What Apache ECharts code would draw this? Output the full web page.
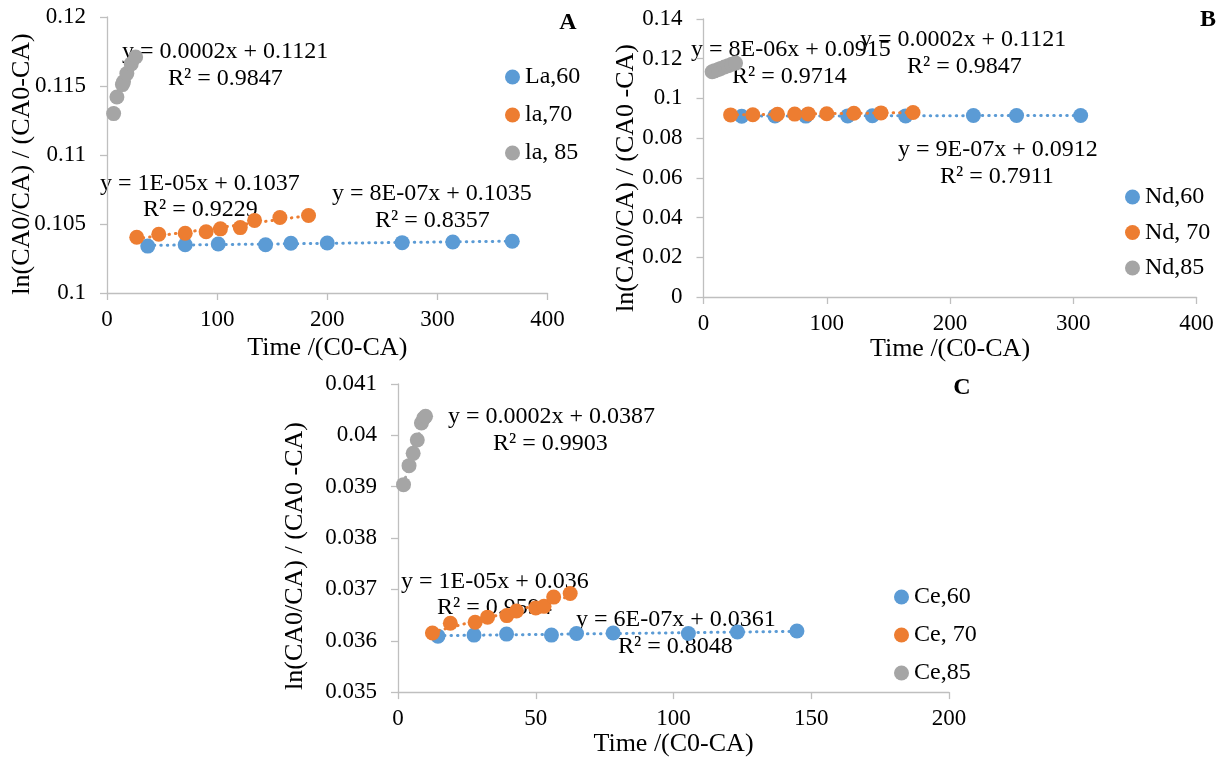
<!DOCTYPE html>
<html><head><meta charset="utf-8">
<script src="https://cdn.jsdelivr.net/npm/echarts@6/dist/echarts.min.js"></script>
<style>html,body{margin:0;padding:0;background:#fff}#c{width:1227px;height:758px}</style>
</head><body><div id="c"></div>
<script>
// ---------- Panel A (La) ----------
const laX60 = [37, 71, 101, 144, 167, 200, 268, 314, 368];
const laY60 = [0.10340, 0.10350, 0.10355, 0.10350, 0.10360, 0.10362, 0.10365, 0.10370, 0.10375];
const laX70 = [27, 47, 71, 90, 103, 121, 134, 157, 183];
const laY70 = [0.10404, 0.10426, 0.10433, 0.10444, 0.10465, 0.10474, 0.10526, 0.10547, 0.10562];
const laX85 = [6, 9, 14, 15, 18, 22, 26];
const laY85 = [0.1130, 0.1142, 0.1151, 0.1153, 0.1159, 0.1166, 0.1171];
// ---------- Panel B (Nd) ----------
const ndX60 = [31, 58, 83, 117, 137, 164, 219, 254, 306];
const ndY60 = [0.0910, 0.0912, 0.0911, 0.0912, 0.0913, 0.0912, 0.0914, 0.0914, 0.0914];
const ndX70 = [22, 40, 60, 74, 85, 100, 122, 144, 170];
const ndY70 = [0.0917, 0.0918, 0.0920, 0.0921, 0.0922, 0.0923, 0.0925, 0.0927, 0.0929];
const ndX85 = [7, 9, 12, 14, 17, 20, 23, 26];
const ndY85 = [0.1134, 0.1139, 0.1146, 0.1151, 0.1158, 0.1165, 0.1172, 0.1178];
// ---------- Panel C (Ce) ----------
const ceX60 = [14.5, 27.6, 39.4, 55.7, 64.8, 78.1, 105.4, 123.2, 144.8];
const ceY60 = [0.03609, 0.03611, 0.03613, 0.03611, 0.03614, 0.03615, 0.03614, 0.03617, 0.03619];
const ceX70 = [12.5, 19, 28, 32.5, 39.5, 43, 50, 53, 56.5, 62.5];
const ceY70 = [0.03615, 0.03634, 0.03636, 0.03646, 0.03649, 0.03658, 0.03664, 0.03667, 0.03685, 0.03692];
const ceX85 = [2, 4, 5.5, 7, 8.5, 9.3, 10];
const ceY85 = [0.03904, 0.03941, 0.03965, 0.03991, 0.04024, 0.04033, 0.04037];

// Legend names
const namesA = ['La,60', 'la,70', 'la, 85'];
const namesB = ['Nd,60', 'Nd, 70', 'Nd,85'];
const namesC = ['Ce,60', 'Ce, 70', 'Ce,85'];
// Axis names / equations
const xName = 'Time /(C0-CA)';
const yNameA = 'ln(CA0/CA) / (CA0-CA)';
const yNameB = 'ln(CA0/CA) / (CA0 -CA)';
const yNameC = 'ln(CA0/CA) / (CA0 -CA)';
const eqA = ['y = 0.0002x + 0.1121', 'R² = 0.9847', 'y = 1E-05x + 0.1037', 'R² = 0.9229', 'y = 8E-07x + 0.1035', 'R² = 0.8357'];
const eqB = ['y = 8E-06x + 0.0915', 'R² = 0.9714', 'y = 0.0002x + 0.1121', 'R² = 0.9847', 'y = 9E-07x + 0.0912', 'R² = 0.7911'];
const eqC = ['y = 0.0002x + 0.0387', 'R² = 0.9903', 'y = 1E-05x + 0.036', 'R² = 0.9594', 'y = 6E-07x + 0.0361', 'R² = 0.8048'];

const COLORS = ['#5B9BD5', '#ED7D31', '#A5A5A5'];
const FONT = '"Liberation Serif", "Times New Roman", serif';

function zip(xs, ys) { return xs.map((x, i) => [x, ys[i]]); }
function fit(xs, ys) {
  const n = xs.length;
  let sx = 0, sy = 0, sxx = 0, sxy = 0;
  for (let i = 0; i < n; i++) { sx += xs[i]; sy += ys[i]; sxx += xs[i] * xs[i]; sxy += xs[i] * ys[i]; }
  const b = (n * sxy - sx * sy) / (n * sxx - sx * sx);
  const a = (sy - b * sx) / n;
  const x0 = Math.min(...xs), x1 = Math.max(...xs);
  return [[x0, a + b * x0], [x1, a + b * x1]];
}

const grids = [
  { left: 107, top: 17, width: 440.5, height: 276 },
  { left: 703.5, top: 19, width: 493, height: 278 },
  { left: 398, top: 384, width: 551, height: 308.7 }
];

const axisLine = { show: true, lineStyle: { color: '#bfbfbf', width: 1.3 } };
const axisTick = { show: true, inside: false, length: 7, lineStyle: { color: '#bfbfbf', width: 1.3 } };
const fmt = v => String(+v.toFixed(4));

function xAxis(gi, max, interval, gap) {
  return {
    type: 'value', gridIndex: gi, min: 0, max: max, interval: interval,
    axisLine, axisTick, splitLine: { show: false },
    axisLabel: { color: '#000', fontFamily: FONT, fontSize: 23, margin: 15 },
    name: xName, nameLocation: 'middle', nameGap: gap,
    nameTextStyle: { color: '#000', fontFamily: FONT, fontSize: 26 }
  };
}
function yAxis(gi, min, max, interval) {
  return {
    type: 'value', gridIndex: gi, min: min, max: max, interval: interval,
    axisLine, axisTick, splitLine: { show: false },
    axisLabel: { color: '#000', fontFamily: FONT, fontSize: 23, margin: 21, formatter: fmt }
  };
}

const panels = [
  { names: namesA, xs: [laX60, laX70, laX85], ys: [laY60, laY70, laY85] },
  { names: namesB, xs: [ndX60, ndX70, ndX85], ys: [ndY60, ndY70, ndY85] },
  { names: namesC, xs: [ceX60, ceX70, ceX85], ys: [ceY60, ceY70, ceY85] }
];

const series = [];
panels.forEach((p, gi) => {
  for (let k = 0; k < 3; k++) {
    series.push({
      type: 'line', name: p.names[k] + ' trend', xAxisIndex: gi, yAxisIndex: gi,
      data: fit(p.xs[k], p.ys[k]), symbol: 'none', silent: true, z: 2 + k * 2,
      lineStyle: { color: COLORS[k], width: 3, type: [0.5, 6], cap: 'round' }
    });
    series.push({
      type: 'scatter', name: p.names[k], xAxisIndex: gi, yAxisIndex: gi,
      data: zip(p.xs[k], p.ys[k]), symbol: 'circle', symbolSize: 15,
      itemStyle: { color: COLORS[k], opacity: 1 }, z: 3 + k * 2
    });
  }
});

function legend(names, left, top, gap) {
  return {
    data: names, orient: 'vertical', left: left, top: top, itemGap: gap,
    itemWidth: 15, itemHeight: 15, icon: 'circle', padding: 0,
    textStyle: { color: '#000', fontFamily: FONT, fontSize: 24, lineHeight: 24 }
  };
}

function txt(t, x, y, opts) {
  opts = opts || {};
  return {
    type: 'text', x: x, y: y, rotation: opts.rot || 0, silent: true,
    style: {
      text: t, fill: '#000',
      font: (opts.bold ? 'bold ' : '') + (opts.size || 24) + 'px ' + FONT,
      align: opts.align || 'left', verticalAlign: 'middle'
    }
  };
}

const graphic = [
  txt('A', 568, 23, { bold: true, align: 'center' }),
  txt('B', 1208, 20, { bold: true, align: 'center' }),
  txt('C', 962, 388, { bold: true, align: 'center' }),
  txt(yNameA, 22, 164, { rot: Math.PI / 2, align: 'center', size: 26 }),
  txt(yNameB, 626, 178, { rot: Math.PI / 2, align: 'center', size: 26 }),
  txt(yNameC, 295, 556, { rot: Math.PI / 2, align: 'center', size: 26 }),
  // Panel A equations
  txt(eqA[0], 122, 52), txt(eqA[1], 168, 79),
  txt(eqA[2], 100, 184), txt(eqA[3], 143, 210),
  txt(eqA[4], 332, 194), txt(eqA[5], 375, 221),
  // Panel B equations
  txt(eqB[0], 691, 50), txt(eqB[1], 732, 77),
  txt(eqB[2], 860, 40), txt(eqB[3], 907, 67),
  txt(eqB[4], 898, 150), txt(eqB[5], 940, 177),
  // Panel C equations
  txt(eqC[0], 448, 417), txt(eqC[1], 493, 444),
  txt(eqC[2], 401, 582), txt(eqC[3], 437, 608),
  txt(eqC[4], 576, 620), txt(eqC[5], 618, 647)
];

const chart = echarts.init(document.getElementById('c'), null, { renderer: 'canvas' });
chart.setOption({
  animation: false,
  backgroundColor: '#fff',
  grid: grids,
  xAxis: [xAxis(0, 400, 100, 42), xAxis(1, 400, 100, 38), xAxis(2, 200, 50, 34)],
  yAxis: [yAxis(0, 0.1, 0.12, 0.005), yAxis(1, 0, 0.14, 0.02), yAxis(2, 0.035, 0.041, 0.001)],
  legend: [
    legend(namesA, 505, 65, 14),
    legend(namesB, 1125, 185, 11.5),
    legend(namesC, 894, 585, 14)
  ],
  series: series,
  graphic: graphic
});
</script>
</body></html>
